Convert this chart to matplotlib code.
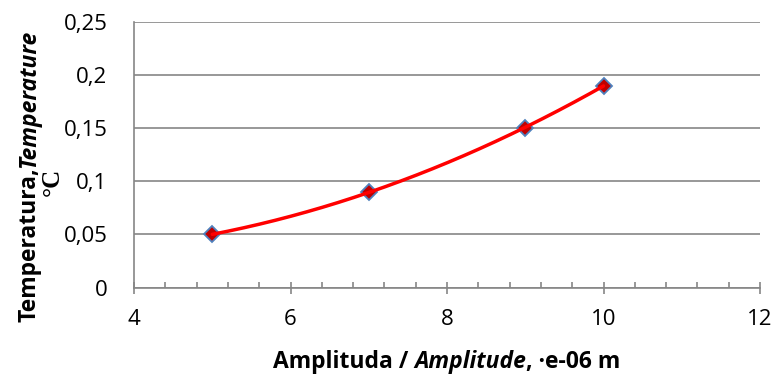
import numpy as np
import matplotlib.pyplot as plt
from matplotlib.ticker import MultipleLocator, FuncFormatter

W, H = 776, 376
FONT = 'Open Sans'

amplitude = [5, 7, 9, 10]
temperature = [0.05, 0.09, 0.15, 0.19]
x_ticks = [4, 6, 8, 10, 12]
y_ticks = [0, 0.05, 0.1, 0.15, 0.2, 0.25]

ylabel_pieces = [('Temperatura,', 'normal'), ('Temperature', 'italic')]
ylabel_unit = '°C'
xlabel_pieces = [('Amplituda / ', 'normal'), ('Amplitude', 'italic'), (', ·e-06 m', 'normal')]


def rich_text(fig, pieces, cx, cy, size, rotation=0):
    # draw text pieces with mixed styles; centred along the text direction,
    # (cx, cy) in pixels is on the baseline
    renderer = fig.canvas.get_renderer()
    widths = []
    for s, style in pieces:
        t = fig.text(0, 0, s, fontsize=size, fontweight='bold', style=style,
                     family=FONT)
        widths.append(t.get_window_extent(renderer).width)
        t.remove()
    total = sum(widths)
    pos = -total / 2
    for (s, style), w in zip(pieces, widths):
        if rotation == 0:
            px, py = cx + pos, cy
        else:
            px, py = cx, cy - pos
        fig.text(px / W, 1 - py / H, s, fontsize=size, fontweight='bold',
                 style=style, family=FONT, rotation=rotation,
                 rotation_mode='anchor', ha='left', va='baseline')
        pos += w


fig = plt.figure(figsize=(W / 100, H / 100), dpi=100)
ax = fig.add_axes([134 / W, 1 - 287.7 / H, (760 - 134) / W, (287.7 - 21.7) / H])

grey = '#868686'
ax.set_xlim(x_ticks[0], x_ticks[-1])
ax.set_ylim(y_ticks[0], y_ticks[-1])
ax.set_xticks(x_ticks)
ax.set_yticks(y_ticks)
ax.xaxis.set_minor_locator(MultipleLocator(0.4))
ax.yaxis.set_major_formatter(FuncFormatter(lambda v, p: ('%g' % v).replace('.', ',')))
ax.grid(axis='y', color=grey, linewidth=1.2)
ax.set_axisbelow(True)
for side in ['top', 'right']:
    ax.spines[side].set_visible(False)
for side in ['left', 'bottom']:
    ax.spines[side].set_color(grey)
    ax.spines[side].set_linewidth(1.2)
ax.tick_params(axis='x', which='major', direction='inout', length=9,
               width=1.2, color=grey, pad=11)
ax.tick_params(axis='x', which='minor', direction='in', length=4,
               width=1.2, color=grey)
ax.tick_params(axis='y', length=0, pad=19)
for lab in ax.get_xticklabels() + ax.get_yticklabels():
    lab.set_family(FONT)
    lab.set_fontsize(16)

ax.plot(amplitude, temperature, linestyle='none', marker='D', markersize=8.5,
        markerfacecolor='#C00000', markeredgecolor='#4F81BD',
        markeredgewidth=1.3, zorder=3, clip_on=False)

# polynomial (order 2) trendline, as in the original spreadsheet chart
coef = np.polyfit(amplitude, temperature, 2)
xt = np.linspace(min(amplitude), max(amplitude), 200)
ax.plot(xt, np.polyval(coef, xt), color='#FF0000', linewidth=2.5, zorder=4,
        solid_capstyle='round')

rich_text(fig, xlabel_pieces, 447, 368, 16.5)
rich_text(fig, ylabel_pieces, 35, 176, 16.5, rotation=90)
fig.text(52 / W, 1 - 182 / H, ylabel_unit, fontsize=18, fontweight='bold',
         family='Liberation Serif', rotation=90, ha='center', va='center')

fig.savefig('out.png', dpi=100)
